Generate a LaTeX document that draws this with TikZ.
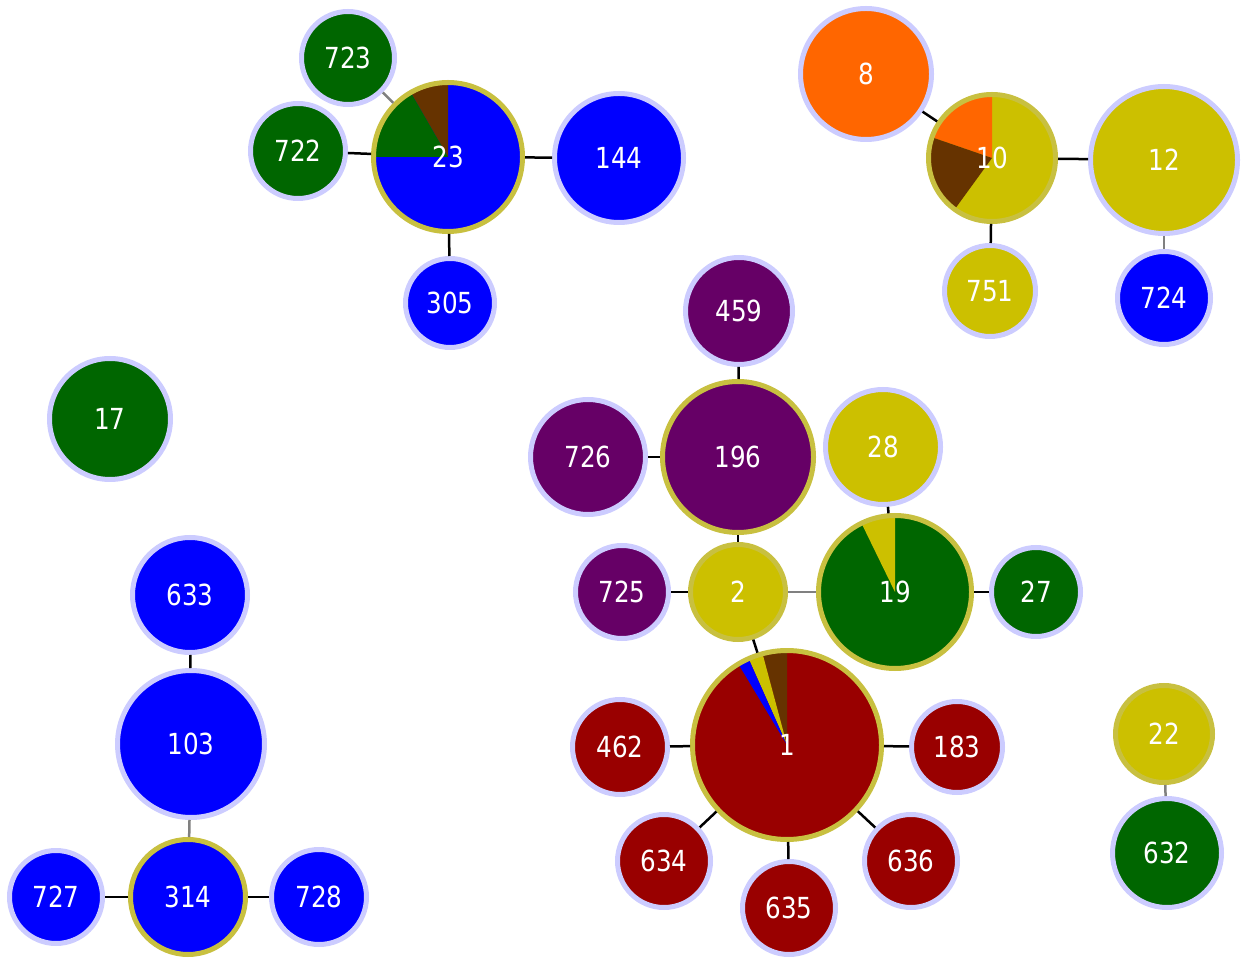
\documentclass[tikz,border=0pt]{standalone}
\usepackage{fontspec}
\setmainfont{DejaVu Sans}[FakeStretch=0.85]
\usepackage{tikz}
\usetikzlibrary{positioning}
\definecolor{lav}{RGB}{204,204,255}
\definecolor{olv}{RGB}{200,192,64}
\definecolor{cblue}{RGB}{0,0,255}
\definecolor{cgreen}{RGB}{0,102,0}
\definecolor{cbrown}{RGB}{102,51,0}
\definecolor{cyel}{RGB}{204,192,0}
\definecolor{cred}{RGB}{153,0,0}
\definecolor{cpurp}{RGB}{102,0,102}
\definecolor{corange}{RGB}{255,102,0}
% one pie wedge, from angle #1 to angle #2, inside the node being drawn
\newcommand{\slice}[3]{\fill[#3] (path picture bounding box.center) -- ++(#1:130)
  arc[start angle=#1, end angle=#2, radius=130] -- cycle;}

\begin{document}
\begin{tikzpicture}[
  x=0.02cm, y=0.02cm,
  blob/.style={circle, draw=lav, line width=0.1cm, inner sep=0pt,
               text=white, font=\fontsize{16.5}{20}\selectfont,
               minimum size={(2*#1-5)*0.02cm}},
  hub/.style={blob=#1, draw=olv},
  link/.style={line width=0.05cm, black},
  glink/.style={link, black!50},
]
\useasboundingbox (0,0) rectangle (1243,957);

% Top left: 23 and its neighbours
\node[hub=77, fill=cblue, path picture={\slice{90}{120}{cbrown}\slice{120}{180}{cgreen}}]
  at (448,800) (n23) {23};
\node[blob=49, fill=cgreen] at (348,899) (n723) {723};
\node[blob=50, fill=cgreen] at (298,806) (n722) {722};
\node[blob=67, fill=cblue]  at (619,799) (n144) {144};
\node[blob=47, fill=cblue]  at (450,654) (n305) {305};

% Top right: 10 and its neighbours
\node[hub=66, fill=cyel, path picture={\slice{90}{161}{corange}\slice{161}{234}{cbrown}}]
  at (992,799) (n10) {10};
\node[blob=68, fill=corange] at (866,883)  (n8)   {8};
\node[blob=76, fill=cyel]    at (1164,797) (n12)  {12};
\node[blob=48, fill=cyel]    at (990,666)  (n751) {751};
\node[blob=49, fill=cblue]   at (1164,659) (n724) {724};

% Lone node
\node[blob=63, fill=cgreen] at (110,538) (n17) {17};

% Middle: 196, 2, 19
\node[hub=78, fill=cpurp] at (738,500) (n196) {196};
\node[blob=56, fill=cpurp] at (739,646) (n459) {459};
\node[blob=60, fill=cpurp] at (588,500) (n726) {726};
\node[hub=50, fill=cyel]  at (738,365) (n2)   {2};
\node[blob=49, fill=cpurp] at (622,365) (n725) {725};
\node[hub=79, fill=cgreen, path picture={\slice{90}{116}{cyel}}]
  at (895,365) (n19) {19};
\node[blob=60, fill=cyel]   at (883,510)  (n28) {28};
\node[blob=47, fill=cgreen] at (1036,365) (n27) {27};

% Bottom: 1 and its neighbours
\node[hub=97, fill=cred, path picture={\slice{90}{105}{cbrown}\slice{105}{114}{cyel}\slice{114}{121}{cblue}}]
  at (787,212) (n1) {1};
\node[blob=50, fill=cred] at (620,210) (n462) {462};
\node[blob=48, fill=cred] at (957,210) (n183) {183};
\node[blob=49, fill=cred] at (664,96)  (n634) {634};
\node[blob=49, fill=cred] at (789,49)  (n635) {635};
\node[blob=49, fill=cred] at (911,96)  (n636) {636};

% Bottom right pair
\node[hub=51, fill=cyel]    at (1164,223) (n22)  {22};
\node[blob=57, fill=cgreen] at (1167,104) (n632) {632};

% Left column
\node[blob=60, fill=cblue] at (190,362) (n633) {633};
\node[blob=76, fill=cblue] at (191,213) (n103) {103};
\node[hub=60, fill=cblue]  at (188,60)  (n314) {314};
\node[blob=49, fill=cblue] at (56,60)   (n727) {727};
\node[blob=50, fill=cblue] at (319,60)  (n728) {728};

% Links
\draw[glink] (n723) -- (n23);
\draw[link]  (n722) -- (n23);
\draw[link]  (n23)  -- (n144);
\draw[link]  (n23)  -- (n305);
\draw[link]  (n8)   -- (n10);
\draw[link]  (n10)  -- (n12);
\draw[link]  (n10)  -- (n751);
\draw[glink] (n12)  -- (n724);
\draw[link]  (n459) -- (n196);
\draw[link]  (n726) -- (n196);
\draw[link]  (n196) -- (n2);
\draw[link]  (n725) -- (n2);
\draw[glink] (n2)   -- (n19);
\draw[link]  (n28)  -- (n19);
\draw[link]  (n19)  -- (n27);
\draw[link]  (n2)   -- (n1);
\draw[link]  (n462) -- (n1);
\draw[link]  (n1)   -- (n183);
\draw[link]  (n1)   -- (n634);
\draw[link]  (n1)   -- (n635);
\draw[link]  (n1)   -- (n636);
\draw[glink] (n22)  -- (n632);
\draw[link]  (n633) -- (n103);
\draw[glink] (n103) -- (n314);
\draw[link]  (n727) -- (n314);
\draw[link]  (n314) -- (n728);
\end{tikzpicture}
\end{document}
